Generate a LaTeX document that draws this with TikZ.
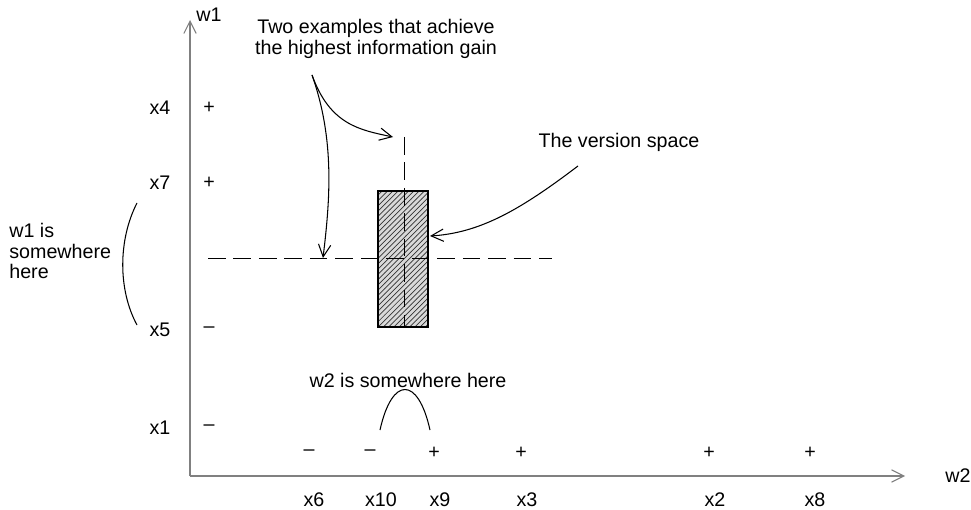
\documentclass[tikz,border=0pt]{standalone}
\usepackage{fontspec}
\setmainfont{Liberation Sans}
\usetikzlibrary{arrows.meta,patterns}

\begin{document}
\begin{tikzpicture}[
            x=0.02cm, y=-0.02cm,
            lbl/.style={inner sep=0pt, font=\fontsize{11.2pt}{11.6pt}\selectfont},
            sign/.style={inner sep=0pt, font=\fontsize{11.2pt}{11.6pt}\selectfont},
            axis/.style={draw=gray, line width=0.6pt, -{Straight Barb[length=7pt,width=7pt]}},
            arrow/.style={line width=0.6pt, -{Straight Barb[length=7pt,width=7pt]}},
            guide/.style={line width=0.5pt, dash pattern=on 10pt off 4.5pt},
            bow/.style={line width=0.6pt}
        ]
            \useasboundingbox (0,0) rectangle (971,510);

            % --- AXES ---
            \coordinate (origin) at (190,476);
            \coordinate (ytip) at (190,20);
            \coordinate (xtip) at (905,476);
            \draw[axis] (origin) -- (ytip);
            \draw[axis] (origin) -- (xtip);
            \node[lbl] (w1) at (209,15) {w1};
            \node[lbl] (w2) at (958,476) {w2};

            % --- W1 EXAMPLES ---
            \node[lbl] (x4) at (160,108) {x4};
            \node[lbl] (x7) at (160,183) {x7};
            \node[lbl] (x5) at (160,330) {x5};
            \node[lbl] (x1) at (160,428) {x1};
            \node[sign] (m4) at (209,108) {+};
            \node[sign] (m7) at (209,183) {+};
            \node[sign] (m5) at (209,330) {--};
            \node[sign] (m1) at (209,428) {--};

            % --- W2 EXAMPLES ---
            \node[lbl] (x6) at (314,500) {x6};
            \node[lbl] (x10) at (381,500) {x10};
            \node[lbl] (x9) at (440,500) {x9};
            \node[lbl] (x3) at (527,500) {x3};
            \node[lbl] (x2) at (715,500) {x2};
            \node[lbl] (x8) at (815,500) {x8};
            \node[sign] (m6) at (309,453) {--};
            \node[sign] (m10) at (370,453) {--};
            \node[sign] (m9) at (434,453) {+};
            \node[sign] (m3) at (521,453) {+};
            \node[sign] (m2) at (709,453) {+};
            \node[sign] (m8) at (810,453) {+};

            % --- VERSION SPACE ---
            \node[fill=gray!30, inner sep=0pt, minimum width=1cm, minimum height=2.72cm] (vsback) at (403,259) {};
            \node[draw, line width=0.6pt, pattern=north east lines, pattern color=black!80,
                  inner sep=0pt, minimum width=1cm, minimum height=2.72cm] (vs) at (403,259) {};

            % --- SPLITS ---
            \coordinate (hleft) at (208,258);
            \coordinate (hright) at (552,258);
            \coordinate (vtop) at (404,137);
            \coordinate (vbot) at (404,327);
            \draw[guide] (hleft) -- (hright);
            \draw[guide] (vtop) -- (vbot);

            % --- LABELS ---
            \node[lbl, align=center] (gain) at (376,39) {Two examples that achieve\\the highest information gain};
            \node[lbl] (vslabel) at (619,142) {The version space};
            \node[lbl, align=left, anchor=west] (w1here) at (9,251) {w1 is\\somewhere\\here};
            \node[lbl] (w2here) at (408,380) {w2 is somewhere here};

            % --- POINTERS ---
            \coordinate (gainfoot) at (312,75);
            \coordinate (vtoptip) at (393,137);
            \coordinate (hcross) at (323,258);
            \coordinate (vsfoot) at (578,166);
            \coordinate (vsside) at (430,236);
            \draw[arrow] (gainfoot) .. controls (330,125) and (360,130) .. (vtoptip);
            \draw[arrow] (gainfoot) .. controls (335,140) and (330,200) .. (hcross);
            \draw[arrow] (vsfoot) .. controls (520,210) and (480,233) .. (vsside);

            % --- RANGES ---
            \draw[bow] (137,203) .. controls (118,240) and (118,290) .. (137,325);
            \draw[bow] (380,430) .. controls (392,376) and (418,376) .. (430,430);

        \end{tikzpicture}
\end{document}
